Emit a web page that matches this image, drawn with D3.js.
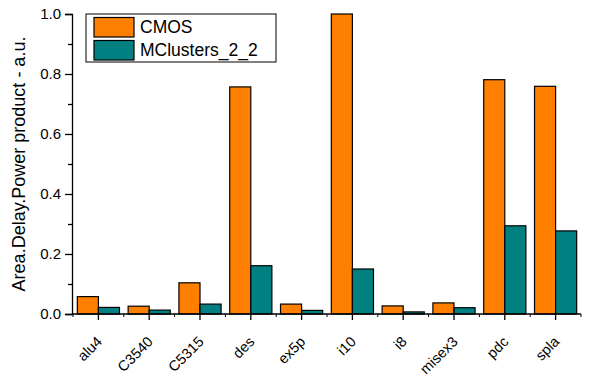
<!DOCTYPE html>
<html>
<head>
<meta charset="utf-8">
<script src="https://cdn.jsdelivr.net/npm/d3@7"></script>
<style>
  body { margin: 0; background: #fff; }
  text { font-family: "Liberation Sans", Arial, sans-serif; fill: #000; }
</style>
</head>
<body>
<div class="chart"></div>
<script>
var categories = ["alu4", "C3540", "C5315", "des", "ex5p", "i10", "i8", "misex3", "pdc", "spla"];
var seriesNames = ["CMOS", "MClusters_2_2"];
var cmosValues = [0.058, 0.026, 0.104, 0.757, 0.033, 1.0, 0.027, 0.037, 0.781, 0.759];
var mclValues = [0.022, 0.013, 0.033, 0.161, 0.012, 0.150, 0.007, 0.021, 0.294, 0.277];
var yMajorTicks = [0, 0.2, 0.4, 0.6, 0.8, 1.0];
var yMinorTicks = [0.1, 0.3, 0.5, 0.7, 0.9];
var colors = ["#ff8000", "#008080"];

var width = 595,
    height = 376;

var svg = d3.select(".chart").append("svg")
    .attr("width", width)
    .attr("height", height);

var x0 = d3.scaleBand()
    .domain(categories)
    .range([73, 581])
    .paddingInner(0.17)
    .paddingOuter(0.085);

var x1 = d3.scaleBand()
    .domain(seriesNames)
    .range([0, x0.bandwidth()]);

var y = d3.scaleLinear()
    .domain([0, 1])
    .range([314, 14]);

var color = d3.scaleOrdinal().domain(seriesNames).range(colors);

var rows = categories.map(function(c, i) {
  return { cat: c, values: [
    { key: seriesNames[0], v: cmosValues[i] },
    { key: seriesNames[1], v: mclValues[i] }
  ]};
});

// bars
var groups = svg.selectAll("g.cat")
  .data(rows)
  .enter().append("g")
    .attr("class", "cat")
    .attr("transform", function(d) { return "translate(" + x0(d.cat) + ",0)"; });

groups.selectAll("rect")
  .data(function(d) { return d.values; })
  .enter().append("rect")
    .attr("x", function(d) { return x1(d.key); })
    .attr("width", x1.bandwidth())
    .attr("y", function(d) { return y(d.v); })
    .attr("height", function(d) { return y(0) - y(d.v); })
    .style("fill", function(d) { return color(d.key); })
    .style("stroke", "#000")
    .style("stroke-width", 1.2);

// y axis
var yAxis = svg.append("g")
    .attr("transform", "translate(72,0)")
    .call(d3.axisLeft(y).tickValues(yMajorTicks).tickSize(7).tickPadding(4).tickFormat(d3.format(".1f")));
yAxis.selectAll("text").style("font-size", "15px");

svg.append("g")
    .attr("transform", "translate(72,0)")
    .call(d3.axisLeft(y).tickValues(yMinorTicks).tickSize(4).tickFormat(""))
    .select(".domain").remove();

// x axis
var step = x0.step();
var bounds = d3.range(categories.length + 1).map(function(i) { return x0.range()[0] + i * step; });

var xAxis = svg.append("g")
    .attr("transform", "translate(0,314)")
    .call(d3.axisBottom(x0).tickSize(6).tickSizeOuter(0));

xAxis.selectAll(".tick text")
    .style("font-size", "14.5px")
    .style("text-anchor", "end")
    .attr("x", 0).attr("y", 0)
    .attr("transform", "translate(1,25) rotate(-45)")
    .attr("dx", 0).attr("dy", "0.35em");

xAxis.select(".domain").attr("d", "M" + bounds[0] + ",0H" + bounds[bounds.length - 1]);

svg.append("g")
    .attr("transform", "translate(0,314)")
    .selectAll("line")
    .data(bounds)
    .enter().append("line")
      .attr("x1", function(d) { return d; })
      .attr("x2", function(d) { return d; })
      .attr("y1", 0)
      .attr("y2", 3)
      .style("stroke", "#000");

svg.selectAll(".domain, .tick line").style("stroke-width", 1.3);

// y title
svg.append("text")
    .attr("transform", "translate(25,164) rotate(-90)")
    .style("text-anchor", "middle")
    .style("font-size", "18px")
    .text("Area.Delay.Power product - a.u.");

// legend
var legend = svg.append("g").attr("transform", "translate(86,14)");
legend.append("rect")
    .attr("width", 190)
    .attr("height", 48)
    .style("fill", "#fff")
    .style("stroke", "#000")
    .style("stroke-width", 1);

var items = legend.selectAll("g.item")
  .data(seriesNames)
  .enter().append("g")
    .attr("transform", function(d, i) { return "translate(8," + (3.5 + i * 23) + ")"; });

items.append("rect")
    .attr("width", 40)
    .attr("height", 19.5)
    .style("fill", function(d) { return color(d); })
    .style("stroke", "#000")
    .style("stroke-width", 1.2);

items.append("text")
    .attr("x", 46)
    .attr("y", 15.5)
    .style("font-size", "17.5px")
    .text(function(d) { return d; });
</script>
</body>
</html>
